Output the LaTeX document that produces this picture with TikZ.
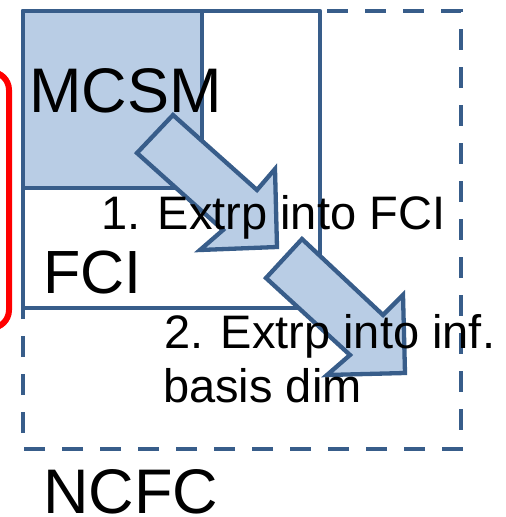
\documentclass[tikz,border=0pt]{standalone}
\usepackage{fontspec}
\setmainfont{Liberation Sans}
\definecolor{boxline}{HTML}{385D8A}
\definecolor{boxfill}{HTML}{B9CDE5}
\tikzset{
  solidbox/.style={draw=boxline, line width=4.3pt, line join=round},
  dashbox/.style={draw=boxline, line width=4.3pt, dash pattern=on 21pt off 17pt},
  fatarrow/.style={draw=boxline, fill=boxfill, line width=4.3pt, line join=miter},
  bigtext/.style={inner sep=0pt, anchor=base west, font=\fontsize{63}{75}\selectfont},
  smalltext/.style={inner sep=0pt, anchor=base west, font=\fontsize{47}{55}\selectfont},
  redframe/.style={draw=red, line width=6pt, rounded corners=18pt}
}
\begin{document}
\begin{tikzpicture}[x=1pt, y=-1pt]
\useasboundingbox (0,0) rectangle (506,517);
% red frame partially visible
\draw[redframe] (-60,72) rectangle (9,328);
% outer dashed box (NCFC)
\draw[dashbox] (23,11) -- (461,11) -- (461,449) -- (23,449) -- cycle;
% MCSM filled box
\fill[boxfill] (23,11) rectangle (202,188);
% FCI box
\draw[solidbox] (23,11) rectangle (320,308);
\draw[solidbox] (23,11) rectangle (202,188);
% block arrows
\draw[fatarrow] (137,153) -- (173,115) -- (257,190) -- (275,169) -- (277,247) -- (200,250) -- (223,230) -- cycle;
\draw[fatarrow] (266,278) -- (302,239) -- (383,315) -- (403,295) -- (405,373) -- (327,375) -- (350,355) -- cycle;
% labels
\node[bigtext] (mcsm) at (29,112) {MCSM};
\node[bigtext, font=\fontsize{61}{73}\selectfont] (fci) at (43,293) {FCI};
\node[bigtext] (ncfc) at (43,513) {NCFC};
\node[smalltext] (step1) at (101,229) {1. Extrp into FCI};
\node[smalltext] (step2a) at (164,348) {2. Extrp into inf.};
\node[smalltext] (step2b) at (163,402) {basis dim};
\end{tikzpicture}
\end{document}
